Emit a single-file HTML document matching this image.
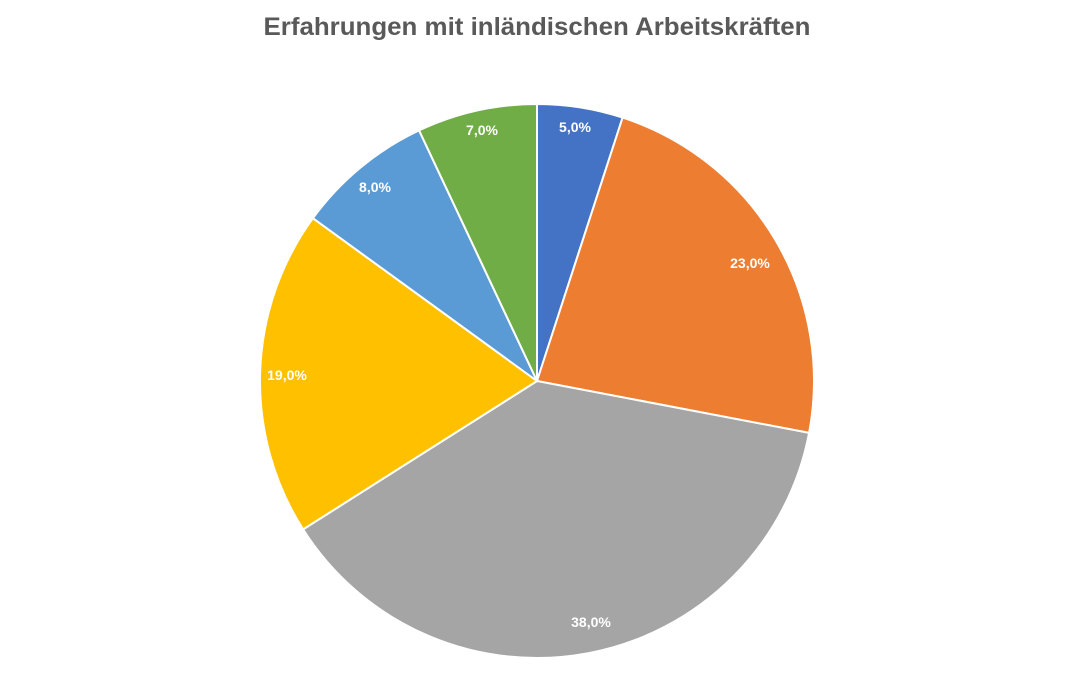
<!DOCTYPE html>
<html><head><meta charset="utf-8"><style>
html,body{margin:0;padding:0;background:#fff;}
body{width:1077px;height:695px;overflow:hidden;}
</style></head><body>
<svg width="1077" height="695" xmlns="http://www.w3.org/2000/svg" font-family="Liberation Sans, sans-serif">
<text x="537" y="35" text-anchor="middle" font-size="25" font-weight="bold" fill="#595959" textLength="547" lengthAdjust="spacingAndGlyphs">Erfahrungen mit inländischen Arbeitskräften</text>
<g stroke="#fff" stroke-width="2" stroke-linejoin="round">
<path d="M537,381 L537,104 A277,277 0 0 1 622.6,117.6 Z" fill="#4472C4"/>
<path d="M537,381 L622.6,117.6 A277,277 0 0 1 809.1,432.9 Z" fill="#ED7D31"/>
<path d="M537,381 L809.1,432.9 A277,277 0 0 1 303.1,529.4 Z" fill="#A5A5A5"/>
<path d="M537,381 L303.1,529.4 A277,277 0 0 1 312.9,218.2 Z" fill="#FFC000"/>
<path d="M537,381 L312.9,218.2 A277,277 0 0 1 419.1,130.4 Z" fill="#5B9BD5"/>
<path d="M537,381 L419.1,130.4 A277,277 0 0 1 537,104 Z" fill="#70AD47"/>
</g>
<g font-size="14" font-weight="bold" fill="#fff" text-anchor="middle">
<text x="575" y="132">5,0%</text>
<text x="750" y="268">23,0%</text>
<text x="591" y="627">38,0%</text>
<text x="287" y="380">19,0%</text>
<text x="375" y="192">8,0%</text>
<text x="482" y="135">7,0%</text>
</g>
</svg>
</body></html>
